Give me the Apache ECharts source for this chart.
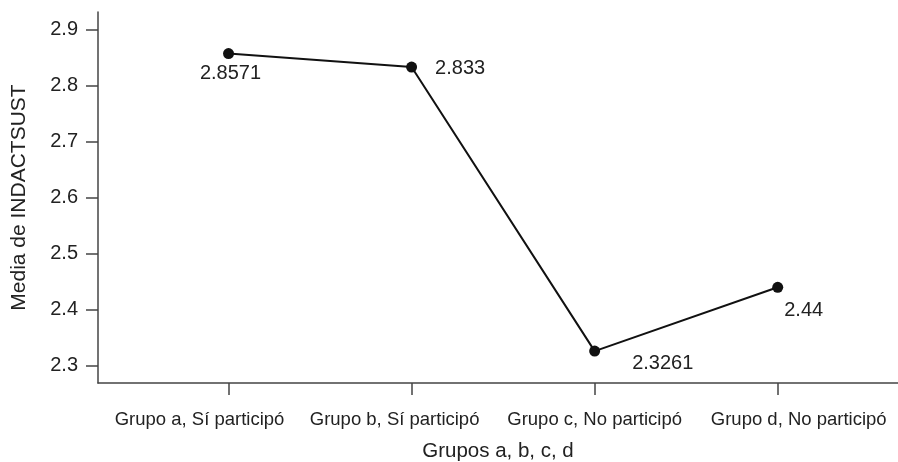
<!DOCTYPE html>
<html>
<head>
<meta charset="utf-8">
<script src="https://cdn.jsdelivr.net/npm/echarts@6/dist/echarts.min.js"></script>
<style>
  html, body { margin: 0; padding: 0; background: #fff; }
  #chart { width: 898px; height: 462px; }
</style>
</head>
<body>
<div id="chart"></div>
<script>
const categories = ['Grupo a, Sí participó', 'Grupo b, Sí participó', 'Grupo c, No participó', 'Grupo d, No participó']
const means = [2.8571, 2.833, 2.3261, 2.44]
const yTicks = [2.3, 2.4, 2.5, 2.6, 2.7, 2.8, 2.9]
// the source spreads category labels evenly, not centred on ticks: horizontal nudge in px
const labelShift = [-29, -17, 0, 21]
// where each value label sits relative to its point
const labelPlace = [
  { position: 'bottom', offset: [2, 0], distance: 4 },
  { position: 'right', offset: [18, 1], distance: 0 },
  { position: 'right', offset: [32, 12], distance: 0 },
  { position: 'right', offset: [1, 23], distance: 0 },
]

const FONT = '"Liberation Sans", Arial, sans-serif'
const AXIS = '#444'

const rich = {}
labelShift.forEach((s, i) => {
  rich['c' + i] = {
    color: '#222', fontSize: 18.5, fontFamily: FONT,
    padding: s < 0 ? [0, -2 * s, 0, 0] : [0, 0, 0, 2 * s],
  }
})

const chart = echarts.init(document.getElementById('chart'), null, { renderer: 'canvas' })

chart.setOption({
  backgroundColor: '#fff',
  animation: false,
  grid: { left: 98, right: 0, top: 12, bottom: 79, containLabel: false, outerBoundsMode: 'none' },
  xAxis: {
    type: 'value', min: -0.713, max: 3.657,
    name: 'Grupos a, b, c, d', nameLocation: 'middle', nameGap: 58,
    nameTextStyle: { color: '#222', fontSize: 20.5, fontFamily: FONT },
    axisLine: { show: true, onZero: false, lineStyle: { color: AXIS, width: 1.5 } },
    axisTick: { show: true, length: 12, customValues: [0, 1, 2, 3], lineStyle: { color: AXIS, width: 1.5 } },
    axisLabel: {
      customValues: [0, 1, 2, 3], margin: 27, hideOverlap: false,
      showMinLabel: true, showMaxLabel: true,
      color: '#222', fontSize: 18.5, fontFamily: FONT,
      formatter: (v) => {
        const i = Math.round(v)
        return categories[i] ? '{c' + i + '|' + categories[i] + '}' : ''
      },
      rich: rich,
    },
    splitLine: { show: false },
  },
  yAxis: {
    type: 'value', min: 2.2692, max: 2.9312,
    name: 'Media de INDACTSUST', nameLocation: 'middle', nameGap: 68, nameRotate: 90,
    nameTextStyle: { color: '#222', fontSize: 21, fontFamily: FONT },
    axisLine: { show: true, onZero: false, lineStyle: { color: AXIS, width: 1.5 } },
    axisTick: { show: true, length: 12, customValues: yTicks, lineStyle: { color: AXIS, width: 1.5 } },
    axisLabel: {
      customValues: yTicks, margin: 20,
      color: '#222', fontSize: 20, fontFamily: FONT,
      formatter: (v) => v.toFixed(1),
    },
    splitLine: { show: false },
  },
  series: [{
    type: 'line',
    data: means.map((m, i) => ({
      value: [i, m],
      label: Object.assign({ show: true }, labelPlace[i]),
    })),
    symbol: 'circle', symbolSize: 11,
    itemStyle: { color: '#111' },
    lineStyle: { color: '#111', width: 2 },
    label: {
      color: '#222', fontSize: 20, fontFamily: FONT,
      formatter: (p) => String(p.value[1]),
    },
  }],
})
</script>
</body>
</html>
